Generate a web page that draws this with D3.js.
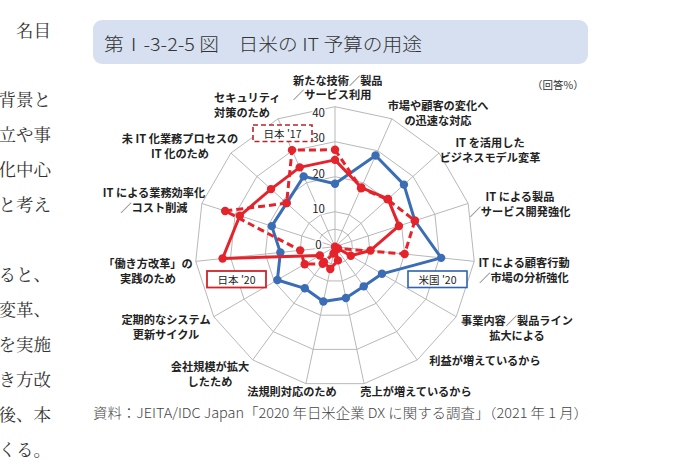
<!DOCTYPE html>
<html lang="ja">
<head>
<meta charset="utf-8">
<script src="https://cdn.jsdelivr.net/npm/d3@7"></script>
<style>
  body { margin: 0; background: #fff; }
  svg { display: block; font-family: "Noto Sans CJK JP", "Noto Sans", sans-serif; }
</style>
</head>
<body>
<svg id="chart" width="679" height="465"></svg>
<script>
// categories, clockwise from the top
const categories = [
    ['新たな技術／製品', '／サービス利用'],
    ['市場や顧客の変化へ', 'の迅速な対応'],
    ['IT を活用した', 'ビジネスモデル変革'],
    ['IT による製品', '／サービス開発強化'],
    ['IT による顧客行動', '／市場の分析強化'],
    ['事業内容／製品ライン', '拡大による'],
    ['利益が増えているから'],
    ['売上が増えているから'],
    ['法規則対応のため'],
    ['会社規模が拡大', 'したため'],
    ['定期的なシステム', '更新サイクル'],
    ['「働き方改革」の', '実践のため'],
    ['IT による業務効率化', '／コスト削減'],
    ['未 IT 化業務プロセスの', 'IT 化のため'],
    ['セキュリティ', '対策のため']
];

// values (回答%)
const us20 = [18, 28.5, 26.5, 24, 30.5, 15.5, 14, 15, 16, 14.7, 19, 15.7, 19, 18.6, 22];
const jp20 = [24.8, 18.5, 20.4, 19.2, 10.2, 5.2, 0, 4, 6.5, 5.4, 5, 32.3, 28.6, 24.6, 24.8];
const jp17 = [27.7, 18.3, 20.2, 24, 20, 1, 0.5, 1, 2, 6, 10, 10, 33, 18.6, 30.2];

const tickValues = [0, 10, 20, 30, 40];
const ringValues = [5, 10, 20, 30, 40];

const seriesNames = ["米国 '20", "日本 '20", "日本 '17"];

const bodyLines = ['名目', '', '背景と', '立や事', '化中心', 'と考え', '', 'ると、', '変革、', 'を実施', 'き方改', '後、本', 'くる。'];

// ---- layout ----
const cx = 335, cy = 246.7;
const red = '#e4232b', blue = '#3a6db5';

// where each category label sits (first line centre), with anchor
const labelAt = [
    [293, 79.5, 'start'], [438, 105, 'middle'], [490, 142, 'middle'], [520, 196, 'middle'],
    [524, 262, 'middle'], [517, 320, 'middle'], [485, 360, 'middle'], [416, 391, 'middle'],
    [292, 391, 'middle'], [210, 366, 'middle'], [166, 319, 'middle'], [148, 263, 'middle'],
    [154, 192, 'middle'], [180, 138, 'middle'], [214, 97, 'start']
];

const svg = d3.select('#chart');

// left column of page body text (cut by the page edge)
let body = svg.append('g')
    .attr('font-family', '"Noto Serif CJK JP", "Noto Sans CJK JP", serif')
    .attr('font-size', 17.5)
    .attr('fill', '#333');
bodyLines.forEach((t, i) => {
    if(!t) return;
    body.append('text')
        .attr('x', 51)
        .attr('y', i === 0 ? 29 : 29 + 35 * (i - 1) + 34)
        .attr('text-anchor', 'end')
        .attr('dominant-baseline', 'central')
        .text(t);
});

// title bar
svg.append('rect')
    .attr('x', 93).attr('y', 20)
    .attr('width', 495).attr('height', 44)
    .attr('rx', 9)
    .attr('fill', '#d6e0f0');

svg.append('text')
    .attr('x', 104).attr('y', 43)
    .attr('dominant-baseline', 'central')
    .attr('font-size', 18)
    .attr('font-weight', 300)
    .attr('fill', '#333')
    .attr('textLength', 318)
    .attr('lengthAdjust', 'spacingAndGlyphs')
    .text('第Ⅰ-3-2-5 図　日米の IT 予算の用途');

svg.append('text')
    .attr('x', 532).attr('y', 84)
    .attr('dominant-baseline', 'central')
    .attr('font-size', 10.5)
    .attr('fill', '#333')
    .text('（回答%）');

// scales
const r = d3.scaleLinear().domain([0, 40]).range([0, 140]);
const angle = d3.scalePoint()
    .domain(d3.range(categories.length))
    .range([0, 2 * Math.PI - 2 * Math.PI / categories.length]);

const radial = d3.lineRadial()
    .angle((d, i) => angle(i))
    .radius(d => r(d))
    .curve(d3.curveLinearClosed);

let plot = svg.append('g').attr('transform', `translate(${cx},${cy})`);

// grid rings
plot.selectAll('.ring')
    .data(ringValues)
    .join('path')
    .attr('class', 'ring')
    .attr('d', v => radial(categories.map(() => v)))
    .attr('fill', 'none')
    .attr('stroke', '#b8b8b8')
    .attr('stroke-width', 1);

// spokes
plot.selectAll('.spoke')
    .data(categories)
    .join('line')
    .attr('class', 'spoke')
    .attr('x1', 0).attr('y1', 0)
    .attr('x2', (d, i) => r(40) * Math.sin(angle(i)))
    .attr('y2', (d, i) => -r(40) * Math.cos(angle(i)))
    .attr('stroke', '#b8b8b8')
    .attr('stroke-width', 1);

// tick labels
plot.selectAll('.tick')
    .data(tickValues)
    .join('text')
    .attr('class', 'tick')
    .attr('x', -16.5)
    .attr('y', v => v === 40 ? -r(v) + 5.5 : -r(v) - 3 - v / 10 * 0.5)
    .attr('text-anchor', 'middle')
    .attr('dominant-baseline', 'central')
    .attr('font-size', 11.5)
    .attr('fill', '#222')
    .attr('stroke', '#fff')
    .attr('stroke-width', 3)
    .attr('paint-order', 'stroke')
    .text(v => v);

function series(values, color, dash){
    let g = plot.append('g');
    g.append('path')
        .attr('d', radial(values))
        .attr('fill', 'none')
        .attr('stroke', color)
        .attr('stroke-width', 3)
        .attr('stroke-linejoin', 'round')
        .attr('stroke-dasharray', dash || null);
    g.selectAll('circle')
        .data(values)
        .join('circle')
        .attr('cx', (d, i) => r(d) * Math.sin(angle(i)))
        .attr('cy', (d, i) => -r(d) * Math.cos(angle(i)))
        .attr('r', 4.2)
        .attr('fill', color);
}

series(us20, blue);
series(jp17, red, '7,4');
series(jp20, red);

// category labels
let labels = svg.append('g')
    .attr('font-size', 11.2)
    .attr('font-weight', 700)
    .attr('fill', '#222');
categories.forEach((lines, i) => {
    let t = labels.append('text')
        .attr('text-anchor', labelAt[i][2]);
    lines.forEach((line, j) => {
        t.append('tspan')
            .attr('x', labelAt[i][0])
            .attr('y', labelAt[i][1] + j * 14.5)
            .attr('dominant-baseline', 'central')
            .text(line);
    });
});

// legend boxes placed beside the lines
const legendBoxes = [
    {name: seriesNames[0], x: 408, y: 271, color: '#2f63ad', dash: null, w: 1.6},
    {name: seriesNames[1], x: 207, y: 271, color: '#d2232a', dash: null, w: 1.8},
    {name: seriesNames[2], x: 253, y: 125, color: '#b8242b', dash: '5,3', w: 1.6}
];
legendBoxes.forEach(b => {
    svg.append('rect')
        .attr('x', b.x).attr('y', b.y)
        .attr('width', 59).attr('height', 16.5)
        .attr('fill', '#fff')
        .attr('stroke', b.color)
        .attr('stroke-width', b.w)
        .attr('stroke-dasharray', b.dash);
    svg.append('text')
        .attr('x', b.x + 29.5).attr('y', b.y + 8.5)
        .attr('text-anchor', 'middle')
        .attr('dominant-baseline', 'central')
        .attr('font-size', 10.5)
        .attr('fill', '#222')
        .text(b.name);
});

// source
svg.append('text')
    .attr('x', 93).attr('y', 412)
    .attr('dominant-baseline', 'central')
    .attr('font-size', 13.5)
    .attr('font-weight', 300)
    .attr('fill', '#444')
    .attr('textLength', 495)
    .attr('lengthAdjust', 'spacingAndGlyphs')
    .text('資料：JEITA/IDC Japan「2020 年日米企業 DX に関する調査」（2021 年 1 月）');
</script>
</body>
</html>
